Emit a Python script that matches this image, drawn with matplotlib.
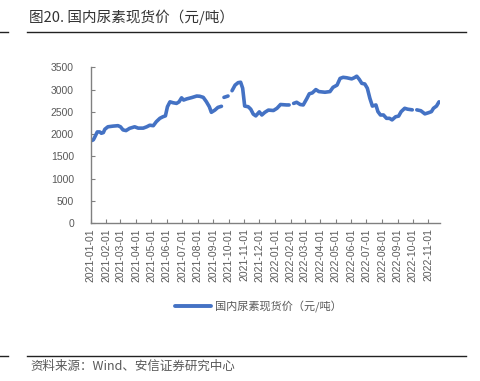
import numpy as np
import pandas as pd
import matplotlib
matplotlib.use("Agg")
import matplotlib.pyplot as plt
import matplotlib.dates as mdates
from matplotlib.lines import Line2D

plt.rcParams['font.family'] = ['Noto Sans CJK SC', 'DejaVu Sans']

title = "图20. 国内尿素现货价（元/吨）"
series_name = "国内尿素现货价（元/吨）"
source = "资料来源：Wind、安信证券研究中心"

dates = [
    "2021-01-01", "2021-01-06", "2021-01-08", "2021-01-14", "2021-01-19", "2021-01-22",
    "2021-01-26", "2021-01-29", "2021-02-04", "2021-02-14", "2021-02-24", "2021-03-01",
    "2021-03-06", "2021-03-12", "2021-03-19", "2021-03-29", "2021-04-05", "2021-04-15",
    "2021-04-22", "2021-04-28", "2021-05-05", "2021-05-11", "2021-05-18", "2021-05-24",
    "2021-05-29", "2021-06-02", "2021-06-07", "2021-06-13", "2021-06-20", "2021-06-25",
    "2021-06-30", "2021-07-04", "2021-07-10", "2021-07-20", "2021-07-30", "2021-08-05",
    "2021-08-12", "2021-08-18", "2021-08-24", "2021-08-28", "2021-09-04", "2021-09-10",
    "2021-09-17", "2021-09-20", "2021-09-22", "2021-09-30", "2021-10-04", "2021-10-08",
    "2021-10-14", "2021-10-20", "2021-10-25", "2021-10-29", "2021-11-02", "2021-11-09",
    "2021-11-14", "2021-11-19", "2021-11-24", "2021-12-01", "2021-12-06", "2021-12-12",
    "2021-12-19", "2021-12-29", "2022-01-05", "2022-01-12", "2022-01-24", "2022-01-29",
    "2022-02-02", "2022-02-07", "2022-02-13", "2022-02-20", "2022-02-26", "2022-03-05",
    "2022-03-10", "2022-03-16", "2022-03-23", "2022-03-29", "2022-04-10", "2022-04-20",
    "2022-04-26", "2022-05-04", "2022-05-10", "2022-05-16", "2022-05-23", "2022-06-02",
    "2022-06-07", "2022-06-12", "2022-06-17", "2022-06-22", "2022-06-28", "2022-07-03",
    "2022-07-08", "2022-07-13", "2022-07-20", "2022-07-24", "2022-07-29", "2022-08-04",
    "2022-08-10", "2022-08-16", "2022-08-21", "2022-08-28", "2022-09-03", "2022-09-08",
    "2022-09-15", "2022-09-21", "2022-09-30", "2022-10-04", "2022-10-09", "2022-10-17",
    "2022-10-25", "2022-11-01", "2022-11-07", "2022-11-11", "2022-11-17", "2022-11-22",
]
values = [
    1850, 1870, 1910, 2050, 2050, 2020,
    2035, 2110, 2165, 2180, 2190, 2165,
    2095, 2080, 2130, 2165, 2135, 2135,
    2165, 2200, 2190, 2280, 2355, 2390,
    2410, 2615, 2725, 2705, 2690, 2725,
    2815, 2765, 2790, 2820, 2855, 2850,
    2825, 2730, 2615, 2490, 2540, 2600,
    2625, np.nan, 2825, 2855, np.nan, 2975,
    3100, 3155, 3165, 3030, 2630, 2615,
    2560, 2450, 2410, 2500, 2430, 2490,
    2540, 2530, 2580, 2665, 2655, 2655,
    np.nan, 2690, 2715, 2665, 2655, 2795,
    2905, 2925, 3000, 2955, 2940, 2955,
    3050, 3100, 3250, 3275, 3265, 3240,
    3265, 3300, 3230, 3140, 3125, 3030,
    2805, 2630, 2655, 2505, 2430, 2430,
    2355, 2355, 2320, 2390, 2405, 2505,
    2580, 2560, 2545, np.nan, 2545, 2525,
    2455, 2480, 2505, 2580, 2630, 2725,
]
yticks = [0, 500, 1000, 1500, 2000, 2500, 3000, 3500]
tick_dates = pd.date_range("2021-01-01", "2022-11-01", freq="MS")

x = pd.to_datetime(dates)

fig = plt.figure(figsize=(4.81, 3.81), dpi=100)
ax = fig.add_axes([0.1886, 0.4139, 0.7262, 0.4095])

line_color = "#4472C4"
ax.plot(x, values, color=line_color, lw=2.6, solid_capstyle='round',
        solid_joinstyle='round', label=series_name)

ax.set_ylim(0, 3500)
ax.set_yticks(yticks)
ax.set_xlim(pd.Timestamp("2021-01-01"), pd.Timestamp("2022-11-24"))
ax.set_xticks(tick_dates)
ax.xaxis.set_major_formatter(mdates.DateFormatter("%Y-%m-%d"))

for s in ["top", "right"]:
    ax.spines[s].set_visible(False)
for s in ["left", "bottom"]:
    ax.spines[s].set_color("#808080")
    ax.spines[s].set_linewidth(1.0)

ax.tick_params(axis='both', direction='in', length=3, width=0.8, color="#808080",
               labelcolor="#595959")
ax.tick_params(axis='y', pad=12)
for lab in ax.get_yticklabels():
    lab.set_fontfamily(['Liberation Sans', 'DejaVu Sans'])
    lab.set_fontsize(7.5)
for lab in ax.get_xticklabels():
    lab.set_fontfamily(['Liberation Sans', 'DejaVu Sans'])
    lab.set_fontsize(7.5)
    lab.set_rotation(90)

leg = ax.legend(loc='center', bbox_to_anchor=(0.538, 0.195), bbox_transform=fig.transFigure,
                frameon=False, handlelength=3.2, handletextpad=0.4,
                prop={'family': ['Noto Sans CJK SC', 'DejaVu Sans'], 'size': 8})
for t in leg.get_texts():
    t.set_color("#595959")
for h in leg.get_lines():
    h.set_linewidth(2.8)

# title and rules
fig.text(29 / 481, 1 - 17 / 381, title, fontsize=10.5, color="#333333", va='center',
         ha='left', fontweight='medium')
fig.add_artist(Line2D([27 / 481, 466 / 481], [1 - 31.5 / 381] * 2, color="#222222", lw=1.0))
fig.add_artist(Line2D([0, 8 / 481], [1 - 31.5 / 381] * 2, color="#222222", lw=1.0))
fig.add_artist(Line2D([27 / 481, 466 / 481], [1 - 355.5 / 381] * 2, color="#222222", lw=1.0))
fig.add_artist(Line2D([0, 8 / 481], [1 - 355.5 / 381] * 2, color="#222222", lw=1.0))
fig.text(30 / 481, 1 - 366 / 381, source, fontsize=9, color="#595959", va='center',
         ha='left', style='italic')

fig.savefig("out.png", dpi=100)
